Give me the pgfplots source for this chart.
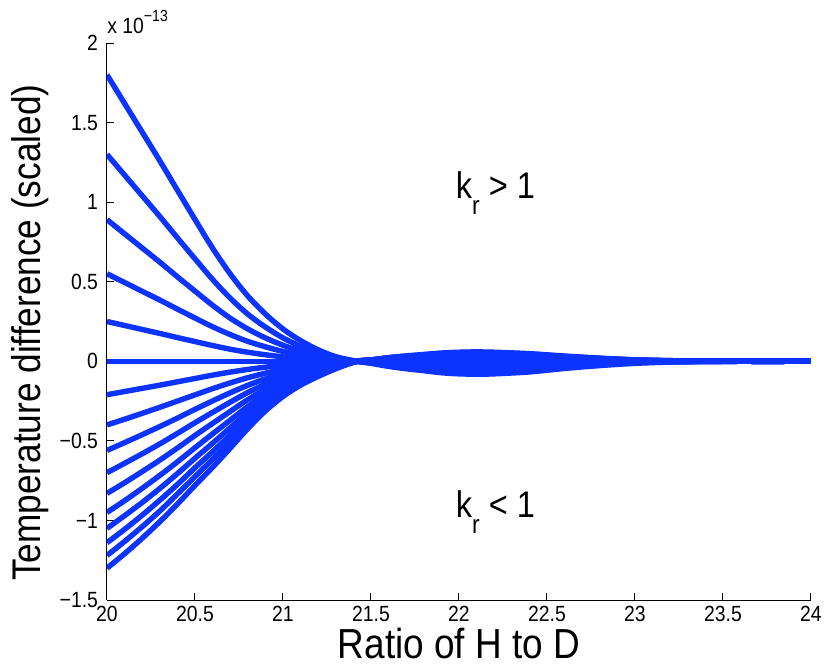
\documentclass[border=0pt]{standalone}
\usepackage{pgfplots}
\pgfplotsset{compat=1.18}
\usepackage{pgfplotstable}
\usepackage{fontspec}
\setmainfont{Liberation Sans}[FakeStretch=0.88]
\definecolor{mblue}{rgb}{0.05,0.2,1}

\pgfplotstableread{
x     c1     c2     c3     c4     c5     c6  c7     c8     c9     c10    c11    c12    c13    c14    c15    c16
20.00 1.800  1.300  0.890  0.550  0.250  0   -0.210 -0.400 -0.560 -0.700 -0.830 -0.950 -1.050 -1.140 -1.220 -1.300
20.10 1.620  1.170  0.801  0.495  0.225  0   -0.190 -0.364 -0.511 -0.641 -0.763 -0.876 -0.970 -1.056 -1.132 -1.209
20.20 1.440  1.040  0.712  0.440  0.200  0   -0.170 -0.327 -0.461 -0.581 -0.693 -0.798 -0.887 -0.967 -1.039 -1.112
20.30 1.260  0.910  0.623  0.385  0.175  0   -0.150 -0.289 -0.410 -0.519 -0.621 -0.717 -0.799 -0.873 -0.941 -1.008
20.40 1.075  0.776  0.531  0.328  0.149  0   -0.129 -0.250 -0.357 -0.453 -0.545 -0.632 -0.706 -0.774 -0.834 -0.897
20.50 0.891  0.644  0.441  0.272  0.124  0   -0.108 -0.211 -0.302 -0.386 -0.466 -0.543 -0.609 -0.669 -0.725 -0.780
20.60 0.711  0.514  0.352  0.217  0.099  0   -0.087 -0.172 -0.249 -0.321 -0.390 -0.456 -0.515 -0.568 -0.616 -0.666
20.70 0.549  0.397  0.271  0.168  0.076  0   -0.068 -0.136 -0.198 -0.257 -0.315 -0.370 -0.418 -0.463 -0.504 -0.546
20.80 0.410  0.296  0.203  0.125  0.057  0   -0.051 -0.103 -0.151 -0.196 -0.241 -0.284 -0.322 -0.357 -0.389 -0.423
20.90 0.297  0.215  0.147  0.091  0.041  0   -0.037 -0.075 -0.110 -0.144 -0.177 -0.209 -0.237 -0.263 -0.288 -0.312
21.00 0.203  0.147  0.101  0.062  0.028  0   -0.026 -0.052 -0.077 -0.101 -0.124 -0.147 -0.167 -0.186 -0.204 -0.221
21.10 0.130  0.094  0.064  0.040  0.018  0   -0.017 -0.034 -0.050 -0.067 -0.083 -0.098 -0.112 -0.125 -0.137 -0.150
21.20 0.072  0.052  0.036  0.022  0.010  0   -0.009 -0.020 -0.030 -0.041 -0.051 -0.061 -0.070 -0.079 -0.087 -0.095
21.30 0.029  0.021  0.014  0.009  0.004  0   -0.004 -0.009 -0.014 -0.019 -0.024 -0.029 -0.034 -0.039 -0.043 -0.047
21.42 0      0      0      0      0      0   0      0      0      0      0      0      0      0      0      0
21.50 -0.013 -0.009 -0.006 -0.004 -0.002 0   0.001  0.003  0.004  0.005  0.006  0.007  0.007  0.008  0.009  0.009
21.60 -0.032 -0.023 -0.016 -0.010 -0.005 0   0.004  0.007  0.010  0.013  0.015  0.017  0.019  0.021  0.022  0.023
21.70 -0.047 -0.034 -0.023 -0.014 -0.007 0   0.005  0.010  0.015  0.018  0.022  0.025  0.027  0.030  0.032  0.034
21.80 -0.059 -0.043 -0.029 -0.018 -0.008 0   0.007  0.013  0.018  0.023  0.027  0.031  0.035  0.038  0.040  0.043
21.90 -0.072 -0.052 -0.036 -0.022 -0.010 0   0.008  0.016  0.022  0.028  0.033  0.038  0.042  0.046  0.049  0.052
22.00 -0.079 -0.057 -0.039 -0.024 -0.011 0   0.009  0.018  0.025  0.031  0.037  0.042  0.046  0.050  0.054  0.057
22.10 -0.081 -0.059 -0.040 -0.025 -0.011 0   0.009  0.018  0.025  0.032  0.037  0.043  0.047  0.051  0.055  0.059
22.20 -0.079 -0.057 -0.039 -0.024 -0.011 0   0.009  0.018  0.025  0.031  0.037  0.042  0.046  0.050  0.054  0.057
22.40 -0.067 -0.048 -0.033 -0.020 -0.009 0   0.008  0.015  0.021  0.026  0.031  0.035  0.039  0.042  0.045  0.048
22.60 -0.045 -0.033 -0.022 -0.014 -0.006 0   0.005  0.010  0.014  0.018  0.021  0.024  0.026  0.029  0.031  0.033
22.80 -0.027 -0.020 -0.013 -0.008 -0.004 0   0.003  0.006  0.008  0.011  0.012  0.014  0.016  0.017  0.018  0.020
23.00 -0.013 -0.009 -0.006 -0.004 -0.002 0   0.001  0.003  0.004  0.005  0.006  0.007  0.007  0.008  0.009  0.009
23.20 -0.005 -0.004 -0.003 -0.002 -0.001 0   0.001  0.001  0.002  0.002  0.002  0.003  0.003  0.003  0.004  0.004
23.40 -0.002 -0.001 -0.001 -0.001 0      0   0      0      0.001  0.001  0.001  0.001  0.001  0.001  0.001  0.001
23.60 0      0      0      0      0      0   0      0      0      0      0      0      0      0      0      0
24.00 0      0      0      0      0      0   0      0      0      0      0      0      0      0      0      0
}\curves

\begin{document}
\begin{tikzpicture}
\begin{axis}[
  at={(0,0)}, anchor=south west,
  width=352pt, height=278.5pt, scale only axis,
  xmin=20, xmax=24, ymin=-1.5, ymax=2,
  axis lines*=left,
  axis line style={black, line width=0.5pt},
  tick align=inside, major tick length=3.5pt,
  tick style={black, line width=0.5pt},
  xtick={20,20.5,21,21.5,22,22.5,23,23.5,24},
  xticklabels={20,20.5,21,21.5,22,22.5,23,23.5,24},
  ytick={-1.5,-1,-0.5,0,0.5,1,1.5,2},
  yticklabels={−1.5,−1,−0.5,0,0.5,1,1.5,2},
  tick label style={font=\fontsize{11}{12}\selectfont},
  yticklabel style={xshift=-1pt},
  xticklabel style={yshift=0.5pt},
  xlabel={Ratio of H to D},
  ylabel={Temperature difference (scaled)},
  xlabel style={font=\fontsize{21}{23}\selectfont, at={(axis description cs:0.5,0)}, anchor=base, yshift=-29pt},
  ylabel style={font=\fontsize{20}{22}\selectfont, at={(axis description cs:-0.094,0.48)}, anchor=base},
]
\pgfplotsinvokeforeach{1,...,16}{
  \addplot[mblue, line width=2.7pt, smooth, line join=round] table[x=x, y=c#1] {\curves};
}
\node[anchor=base west, inner sep=0, font=\fontsize{18.5}{18.5}\selectfont] at (axis cs:21.98,1.02) {k\raisebox{-8pt}{\fontsize{13}{13}\selectfont r} > 1};
\node[anchor=base west, inner sep=0, font=\fontsize{18.5}{18.5}\selectfont] at (axis cs:21.98,-0.98) {k\raisebox{-8pt}{\fontsize{13}{13}\selectfont r} < 1};
\end{axis}
\node[anchor=base west, inner sep=0, font=\fontsize{11}{11}\selectfont] at (0pt,283.5pt) {x 10\raisebox{6pt}{\fontsize{8}{8}\selectfont −13}};
\pgfresetboundingbox
\path[use as bounding box] (-53.5pt,-33pt) rectangle (360pt,300pt);
\end{tikzpicture}
\end{document}
